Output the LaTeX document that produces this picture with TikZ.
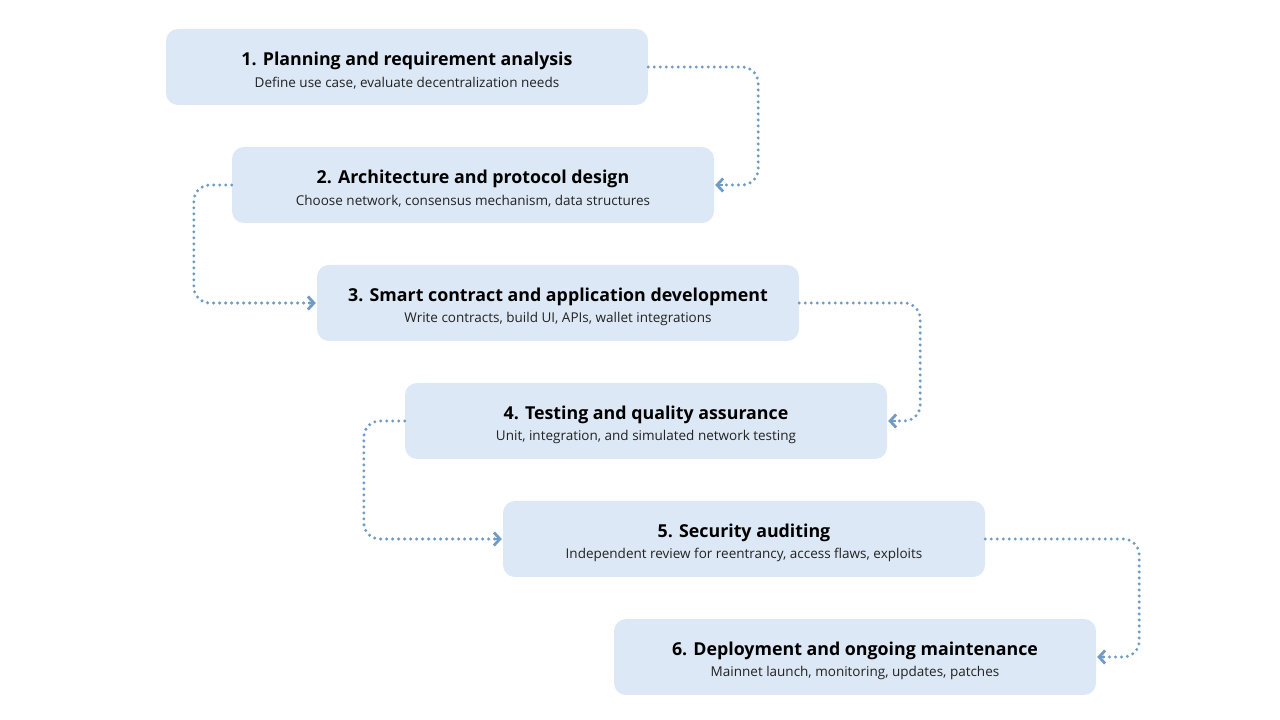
\documentclass[tikz,border=0pt]{standalone}
\usepackage{fontspec}
\setmainfont{Open Sans}
\usepackage{tikz}
\usetikzlibrary{positioning}
\usetikzlibrary{arrows.meta,calc}
\usepackage{xcolor}
\definecolor{boxfill}{HTML}{DCE8F5}
\definecolor{connblue}{HTML}{6F9BC4}
\definecolor{subgray}{HTML}{222222}
\newcommand{\stagetitle}[1]{{\fontsize{17.8}{21}\selectfont\bfseries\rule{0pt}{21pt}#1}}
\newcommand{\stagesub}[1]{{\fontsize{13.5}{16}\selectfont\color{subgray}#1}}

\begin{document}
\begin{tikzpicture}[x=1pt,y=1pt,
  stagebox/.style={fill=boxfill,rounded corners=12pt,minimum width=482pt,
    minimum height=76pt,align=center,inner sep=0pt},
  conn/.style={connblue,line width=3.3pt,line cap=round,
    dash pattern=on 0pt off 6pt,rounded corners=16pt},
  tip/.style={connblue,line width=2.8pt,
    -{Straight Barb[length=6pt,width=13pt,line width=2.8pt]}}]
  \useasboundingbox (0,0) rectangle (1280,720);
  % six stages, stepping down to the right
  \foreach \n/\x/\y/\ttl/\sub in {
    1/407/653/{1. Planning and requirement analysis}/{Define use case, evaluate decentralization needs},
    2/473/535/{2. Architecture and protocol design}/{Choose network, consensus mechanism, data structures},
    3/558/417/{3. Smart contract and application development}/{Write contracts, build UI, APIs, wallet integrations},
    4/646/299/{4. Testing and quality assurance}/{Unit, integration, and simulated network testing},
    5/744/181/{5. Security auditing}/{Independent review for reentrancy, access flaws, exploits},
    6/855/63/{6. Deployment and ongoing maintenance}/{Mainnet launch, monitoring, updates, patches}} {
    \node[stagebox] (s\n) at (\x,\y) {\stagetitle{\ttl}\\[6pt]\stagesub{\sub}};
  }
  % dotted connectors: right side / left side alternating
  \draw[conn] (s1.east) -- ++(110,0) |- ($(s2.east)+(7,0)$);
  \draw[conn] (s2.west) -- ++(-38,0) |- ($(s3.west)+(-7,0)$);
  \draw[conn] (s3.east) -- ++(121,0) |- ($(s4.east)+(7,0)$);
  \draw[conn] (s4.west) -- ++(-41,0) |- ($(s5.west)+(-7,0)$);
  \draw[conn] (s5.east) -- ++(154,0) |- ($(s6.east)+(7,0)$);
  % arrow tips
  \draw[tip] ($(s2.east)+(9,0)$) -- ($(s2.east)+(1,0)$);
  \draw[tip] ($(s3.west)+(-9,0)$) -- ($(s3.west)+(-1,0)$);
  \draw[tip] ($(s4.east)+(9,0)$) -- ($(s4.east)+(1,0)$);
  \draw[tip] ($(s5.west)+(-9,0)$) -- ($(s5.west)+(-1,0)$);
  \draw[tip] ($(s6.east)+(9,0)$) -- ($(s6.east)+(1,0)$);
\end{tikzpicture}
\end{document}
